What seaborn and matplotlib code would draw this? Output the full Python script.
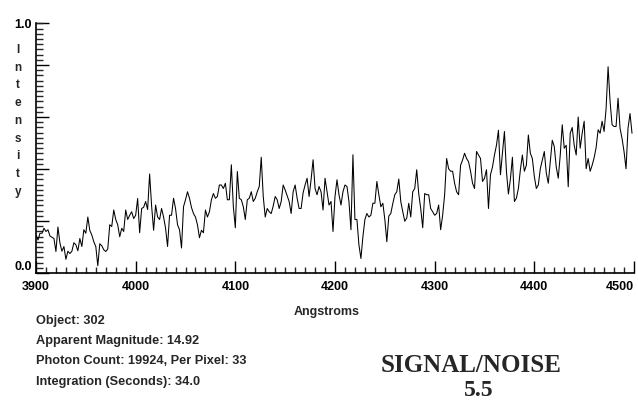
import numpy as np
import pandas as pd
import matplotlib
matplotlib.use("Agg")
import matplotlib.pyplot as plt
import seaborn as sns
from matplotlib.ticker import MultipleLocator

# ------------------------------------------
# style
# ------------------------------------------
sns.set_theme(style="ticks")
plt.rcParams['font.family'] = ['Liberation Sans', 'DejaVu Sans']
plt.rcParams['axes.linewidth'] = 1.2

# ------------------------------------------
# spectrum on a 2 A grid
# ------------------------------------------
WL_START, WL_STOP, WL_STEP = 3900, 4500, 2

I_3900 = [0.152, 0.132, 0.159, 0.159, 0.179, 0.166, 0.173, 0.148, 0.143, 0.138,
          0.086, 0.184, 0.120, 0.087, 0.106, 0.055, 0.087, 0.078, 0.087, 0.121,
          0.113, 0.089, 0.138, 0.106, 0.173, 0.159, 0.224, 0.170, 0.152, 0.125,
          0.106, 0.029, 0.117, 0.109, 0.093, 0.086, 0.096, 0.193, 0.186, 0.252,
          0.214, 0.193, 0.145, 0.179, 0.166, 0.252, 0.214, 0.231, 0.245, 0.218]
I_4000 = [0.231, 0.298, 0.161, 0.258, 0.263, 0.286, 0.254, 0.396, 0.268, 0.171,
          0.272, 0.224, 0.214, 0.258, 0.224, 0.179, 0.106, 0.231, 0.231, 0.299,
          0.258, 0.193, 0.173, 0.100, 0.265, 0.293, 0.325, 0.299, 0.262, 0.238,
          0.224, 0.193, 0.141, 0.171, 0.161, 0.252, 0.224, 0.245, 0.293, 0.318,
          0.299, 0.306, 0.352, 0.352, 0.338, 0.359, 0.293, 0.293, 0.433, 0.265]
I_4100 = [0.181, 0.406, 0.299, 0.293, 0.265, 0.214, 0.293, 0.299, 0.325, 0.286,
          0.299, 0.325, 0.346, 0.463, 0.306, 0.224, 0.258, 0.245, 0.238, 0.268,
          0.306, 0.293, 0.258, 0.286, 0.352, 0.332, 0.309, 0.286, 0.238, 0.325,
          0.352, 0.299, 0.258, 0.258, 0.321, 0.352, 0.379, 0.306, 0.373, 0.453,
          0.338, 0.313, 0.346, 0.325, 0.252, 0.379, 0.325, 0.272, 0.286, 0.166]
I_4200 = [0.306, 0.373, 0.313, 0.272, 0.325, 0.352, 0.346, 0.286, 0.173, 0.473,
          0.214, 0.214, 0.113, 0.058, 0.145, 0.214, 0.238, 0.224, 0.231, 0.279,
          0.279, 0.366, 0.313, 0.265, 0.279, 0.214, 0.125, 0.228, 0.238, 0.278,
          0.313, 0.325, 0.376, 0.286, 0.245, 0.207, 0.220, 0.279, 0.224, 0.325,
          0.338, 0.413, 0.318, 0.258, 0.181, 0.318, 0.313, 0.313, 0.258, 0.245]
I_4300 = [0.231, 0.238, 0.272, 0.173, 0.231, 0.313, 0.458, 0.417, 0.407, 0.407,
          0.359, 0.325, 0.313, 0.431, 0.452, 0.479, 0.458, 0.445, 0.407, 0.359,
          0.338, 0.486, 0.472, 0.458, 0.366, 0.379, 0.413, 0.258, 0.393, 0.424,
          0.472, 0.511, 0.571, 0.393, 0.479, 0.566, 0.407, 0.316, 0.376, 0.463,
          0.286, 0.299, 0.338, 0.413, 0.472, 0.407, 0.431, 0.552, 0.479, 0.458]
I_4400 = [0.386, 0.338, 0.352, 0.417, 0.452, 0.486, 0.400, 0.359, 0.445, 0.531,
          0.506, 0.424, 0.379, 0.472, 0.593, 0.499, 0.511, 0.345, 0.559, 0.582,
          0.511, 0.472, 0.624, 0.499, 0.559, 0.607, 0.417, 0.458, 0.407, 0.431,
          0.461, 0.502, 0.573, 0.559, 0.607, 0.566, 0.658, 0.825, 0.686, 0.593,
          0.586, 0.586, 0.699, 0.579, 0.538, 0.486, 0.417, 0.579, 0.638, 0.559]

# the original draws its long ticks every ~0.208 units, with ten steps between
Y_MAJOR = [0, 0.208, 0.416, 0.624, 0.832, 1.0]
Y_LABELS = ['0.0', '', '', '', '', '1.0']

INFO_LINES = ["Object: 302",
              "Apparent Magnitude: 14.92",
              "Photon Count: 19924, Per Pixel: 33",
              "Integration (Seconds): 34.0"]
SN_VALUE = "5.5"

intensity = np.concatenate([I_3900, I_4000, I_4100, I_4200, I_4300, I_4400])
wavelength = np.arange(WL_START, WL_STOP, WL_STEP)
df = pd.DataFrame({'Angstroms': wavelength, 'Intensity': intensity})

# ------------------------------------------
# figure
# ------------------------------------------
W, H = 638, 400
fig = plt.figure(figsize=(W / 100, H / 100), dpi=100)
fig.patch.set_facecolor('white')
ax = fig.add_axes([36 / W, 1 - 273 / H, 598 / W, 250 / H])
ax.set_facecolor('white')

sns.lineplot(data=df, x='Angstroms', y='Intensity', color='black',
             linewidth=0.75, ax=ax)

ax.set_xlim(3900, 4500)
ax.set_ylim(0, 1)
ax.set_xlabel("")
ax.set_ylabel("")

ax.set_xticks(range(3900, 4501, 100))
ax.xaxis.set_minor_locator(MultipleLocator(10))
ax.set_yticks(Y_MAJOR)
ax.set_yticklabels(Y_LABELS)
ax.yaxis.set_minor_locator(MultipleLocator(0.0208))

ax.tick_params(axis='x', which='major', direction='in', length=9, width=1,
               labelsize=9, pad=6, colors='black')
ax.tick_params(axis='x', which='minor', direction='in', length=4.5, width=1)
ax.tick_params(axis='y', which='major', direction='in', length=9, width=1,
               labelsize=9, pad=3, colors='black')
ax.tick_params(axis='y', which='minor', direction='in', length=5, width=1)
for lbl in ax.get_xticklabels() + ax.get_yticklabels():
    lbl.set_fontweight('bold')
# last label sits flush with the right end of the axis
ax.get_xticklabels()[-1].set_horizontalalignment('right')
ax.get_yticklabels()[0].set_verticalalignment('bottom')

sns.despine(ax=ax)
for s in ['left', 'bottom']:
    ax.spines[s].set_color('black')

# stacked axis title
for i, ch in enumerate("Intensity"):
    fig.text(18 / W, 1 - (50 + i * 17.7) / H, ch, ha='center', va='center',
             fontsize=8.5, fontweight='bold')

fig.text(327 / W, 1 - 312 / H, "Angstroms", ha='center', va='center',
         fontsize=9, fontweight='bold')

for i, line in enumerate(INFO_LINES):
    fig.text(36 / W, 1 - (321 + i * 20.2) / H, line, ha='left', va='center',
             fontsize=9.2, fontweight='bold')

fig.text(471 / W, 1 - 366 / H, "SIGNAL/NOISE", ha='center', va='center',
         family='Liberation Serif', fontsize=18, fontweight='bold')
fig.text(479 / W, 1 - 390 / H, SN_VALUE, ha='center', va='center',
         family='Liberation Serif', fontsize=17, fontweight='bold')

fig.savefig("out.png", dpi=100)
